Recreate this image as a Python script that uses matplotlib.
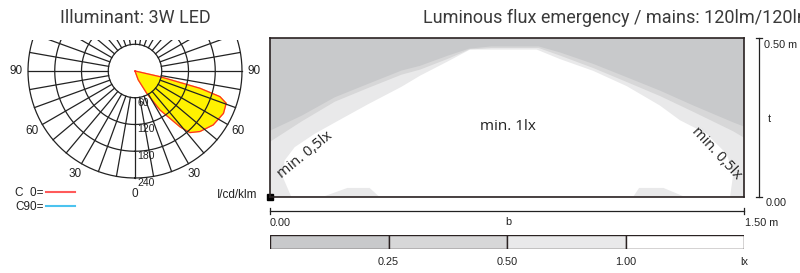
import numpy as np
import matplotlib.pyplot as plt
from matplotlib.transforms import Bbox, TransformedBbox

# ---- polar light distribution (C0 plane, cd/klm) ----
c0_gamma = [20, 20, 27.7, 32.7, 38.9, 41.7, 47, 55.4, 64.4, 70.5, 73.2, 75.1, 77.2, 78]
c0_intensity = [0, 21, 56, 104, 161, 185, 199, 213, 220, 217, 199, 151, 57, 0]
ring_values = [60, 120, 180, 240]
angle_labels = [90, 60, 30, 0, 30, 60, 90]
angle_pos = [-90, -60, -30, 0, 30, 60, 90]

# ---- isolux field (m), boundaries ----
room_w, room_h = 1.5, 0.5
b025_x = [0, 0.10, 0.205, 0.31, 0.416, 0.475, 0.563, 0.63, 0.70, 0.85, 0.918, 1.023, 1.129, 1.234, 1.340, 1.466, 1.5]
b025_y = [0.207, 0.254, 0.312, 0.354, 0.396, 0.411, 0.443, 0.465, 0.472, 0.472, 0.453, 0.417, 0.375, 0.333, 0.286, 0.233, 0.22]
b050_y = [0.172, 0.236, 0.298, 0.341, 0.383, 0.399, 0.433, 0.462, 0.467, 0.467, 0.443, 0.404, 0.360, 0.316, 0.266, 0.205, 0.185]
b100_x = [0.067, 0.041, 0.046, 0.078, 0.141, 0.226, 0.310, 0.416, 0.475, 0.563, 0.633, 0.844, 0.918, 1.023, 1.129, 1.234, 1.297, 1.382, 1.445, 1.466, 1.456]
b100_y = [0.0, 0.060, 0.113, 0.155, 0.197, 0.244, 0.290, 0.345, 0.380, 0.425, 0.462, 0.462, 0.432, 0.395, 0.347, 0.286, 0.240, 0.197, 0.134, 0.071, 0.0]
bump_l_x = [0.17, 0.245, 0.315, 0.345]
bump_r_x = [1.15, 1.168, 1.245, 1.31]
bump_y = [0, 0.027, 0.027, 0]

levels = ['0.25', '0.50', '1.00', 'lx']
level_colors = ['#c8c9cb', '#d7d7d8', '#e9e9ea', '#ffffff']

fig = plt.figure(figsize=(8, 2.73), dpi=100)
W, H = 800, 273

def fx(px):
    return px / W

def fy(py):
    return (H - py) / H

txt = '#222222'

# titles
fig.text(fx(60), fy(23), 'Illuminant: 3W LED', family='Roboto',
         fontsize=13, color='#3a3a3a', va='baseline')
fig.text(fx(423), fy(23), 'Luminous flux emergency / mains: 120lm/120lm', family='Roboto',
         fontsize=13, color='#3a3a3a', va='baseline')

# ---- polar diagram ----
cx, cy, rpx = 135, 71, 107 * 250 / 240
pax = fig.add_axes([fx(cx - rpx), fy(cy + rpx), 2 * rpx / W, 2 * rpx / H], projection='polar')
pax.set_theta_zero_location('S')
pax.set_theta_direction(1)
pax.set_ylim(0, 250)
pax.set_axis_off()

th = np.deg2rad(c0_gamma)
pax.fill(th, c0_intensity, color='#fff200', zorder=1)
pax.plot(th, c0_intensity, color='#ff2a2a', lw=0.9, zorder=1.5)

full = np.linspace(0, 2 * np.pi, 361)
for v in ring_values:
    pax.plot(full, np.full_like(full, v), color=txt, lw=0.9, zorder=2)
for a in range(0, 360, 10):
    pax.plot([np.deg2rad(a)] * 2, [ring_values[0], ring_values[-1]], color=txt, lw=0.9, zorder=2)

clip = TransformedBbox(Bbox([[0, 0], [1, fy(40)]]), fig.transFigure)
for ln in pax.lines:
    ln.set_clip_box(clip)

for v in ring_values:
    pax.annotate(str(v), xy=(0, v), xytext=(1.8, -3.6), textcoords='offset points',
                 ha='left', va='center', fontsize=7.5, family='Liberation Sans', color=txt)
for a, s in zip(angle_pos, angle_labels):
    r = 276 if a == 0 else 267
    pax.text(np.deg2rad(a), r, str(s), ha='center', va='center', fontsize=8.5,
             family='Liberation Sans', color=txt)

pax.plot([], [], color='#ff5a5a', lw=1.5, label='C  0=')
pax.plot([], [], color='#4cc3ef', lw=1.5, label='C90=')
fig.legend(loc='upper left', bbox_to_anchor=(fx(9), fy(181)), frameon=False, markerfirst=False,
           handlelength=2.5, handletextpad=0.2, labelspacing=0.2, borderpad=0,
           prop={'family': 'Liberation Sans', 'size': 8.5}, labelcolor=txt)
fig.text(fx(257), fy(195), 'I/cd/klm', ha='right', va='center', fontsize=8.5,
         family='Liberation Sans', color=txt)

# ---- isolux plot ----
ax = fig.add_axes([fx(270), fy(196.5), 474 / W, 159 / H])
ax.set_xlim(0, room_w)
ax.set_ylim(0, room_h)
ax.set_facecolor(level_colors[0])
ax.fill([0] + b025_x + [room_w], [0] + b025_y + [0], color=level_colors[1], lw=0)
ax.fill([0] + b025_x + [room_w], [0] + b050_y + [0], color=level_colors[2], lw=0)
ax.fill(b100_x, b100_y, color=level_colors[3], lw=0)
ax.fill(bump_l_x, bump_y, color=level_colors[2], lw=0)
ax.fill(bump_r_x, bump_y, color=level_colors[2], lw=0)
ax.set_xticks([])
ax.set_yticks([])
for sp in ax.spines.values():
    sp.set_color('#2a2222')
    sp.set_linewidth(1.2)

ax.text(0.753, 0.22, 'min. 1lx', ha='center', va='center', family='Open Sans', fontsize=11, color=txt)
ax.text(0.112, 0.132, 'min. 0,5lx', ha='center', va='center', rotation=39,
        family='Open Sans', fontsize=10.5, color=txt)
ax.text(1.414, 0.137, 'min. 0,5lx', ha='center', va='center', rotation=-47,
        family='Open Sans', fontsize=10.5, color=txt)
ax.plot(0, 0, 's', ms=5, color='black', clip_on=False)

# dimension lines
dx, cap_x, dy, cap_y = 1.5475, 0.011, -0.047, 0.0095
ax.plot([dx, dx], [0, room_h], color=txt, lw=0.9, clip_on=False)
for yy in [0, room_h]:
    ax.plot([dx - cap_x, dx + cap_x], [yy, yy], color=txt, lw=0.9, clip_on=False)
ax.plot([0, room_w], [dy, dy], color=txt, lw=0.9, clip_on=False)
for xx in [0, room_w]:
    ax.plot([xx, xx], [dy - cap_y, dy + cap_y], color=txt, lw=0.9, clip_on=False)

dim_font = dict(family='Liberation Sans', fontsize=7.8, color=txt, va='center')
ax.text(1.563, 0.476, '0.50 m', **dim_font)
ax.text(1.574, 0.244, 't', **dim_font)
ax.text(1.569, -0.020, '0.00', **dim_font)
ax.text(0, -0.083, '0.00', **dim_font)
ax.text(0.753, -0.080, 'b', ha='center', **dim_font)
ax.text(1.503, -0.083, '1.50 m', **dim_font)

# level legend bar
lax = fig.add_axes([fx(270), fy(248.5), 474 / W, 13.5 / H])
lax.barh(0.5, 1, left=np.arange(4), height=1, color=level_colors, edgecolor='#2a2222', lw=1.0)
lax.set_xlim(0, 4)
lax.set_ylim(0, 1)
lax.set_axis_off()
for i, s in enumerate(levels):
    lax.text(i + 1, -0.98, s, ha='center', **dim_font)

fig.savefig('out.png', dpi=100)
